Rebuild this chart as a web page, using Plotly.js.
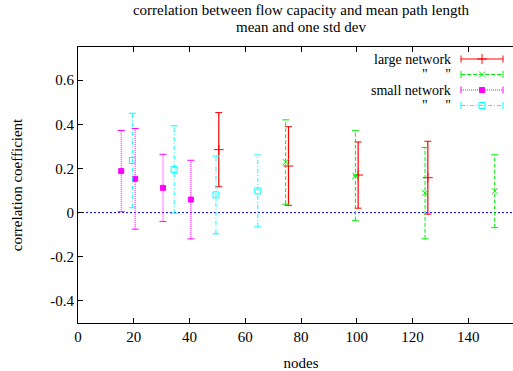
<!DOCTYPE html>
<html>
<head>
<meta charset="utf-8">
<script src="https://cdn.plot.ly/plotly-3.0.1.min.js"></script>
<style>
html,body{margin:0;padding:0;overflow:hidden;background:#fff;width:513px;height:371px;}
#plot{width:530px;height:371px;}
</style>
</head>
<body>
<div id="plot"></div>
<script>
// ---- data ----
const largeX  = [50.5, 75.5, 100.5, 125.5];
const largeMean = [0.285, 0.211, 0.170, 0.158];
const largeStd  = [0.168, 0.178, 0.150, 0.165];

const large2X  = [74.5, 99.5, 124.5, 149.5];
const large2Mean = [0.229, 0.167, 0.088, 0.097];
const large2Std  = [0.191, 0.204, 0.207, 0.165];

const smallX  = [15.5, 20.5, 30.5, 40.5];
const smallMean = [0.188, 0.153, 0.112, 0.059];
const smallStd  = [0.184, 0.228, 0.152, 0.178];

const small2X  = [19.5, 34.5, 49.5, 64.5];
const small2Mean = [0.236, 0.195, 0.080, 0.098];
const small2Std  = [0.214, 0.198, 0.176, 0.163];

const zeroX = [0, 160];
const zeroY = [0, 0];

const xTicks = [0, 20, 40, 60, 80, 100, 120, 140];
const yTicks = [-0.4, -0.2, 0, 0.2, 0.4, 0.6];
const yTickText = ['-0.4', '-0.2', '0', '0.2', '0.4', '0.6'];

const legendNames = ['large network', '"\u00a0\u00a0\u00a0\u00a0\u00a0"', 'small network', '"\u00a0\u00a0\u00a0\u00a0\u00a0"'];

// ---- layout constants ----
const W = 530, H = 371, ML = 78, MR = 6, MT = 47, MB = 48;
const PH = H - MT - MB;
const FONT = 'Liberation Serif, Times New Roman, serif';

const styles = [
  {color: '#ff0000', dash: 'solid', width: 1.2, symbol: 'cross-thin-open', size: 7, fill: null},
  {color: '#00ee00', dash: '4px,2px', width: 1, symbol: 'x-thin-open', size: 6, fill: null},
  {color: '#ff00ff', dash: '1px,1px', width: 1, symbol: 'square', size: 5, fill: '#ff00ff'},
  {color: '#00ffff', dash: '4px,2px,1px,2px', width: 1, symbol: 'square-open', size: 6, fill: null}
];
const series = [
  [largeX, largeMean, largeStd],
  [large2X, large2Mean, large2Std],
  [smallX, smallMean, smallStd],
  [small2X, small2Mean, small2Std]
];

const traces = [];
traces.push({x: zeroX, y: zeroY, mode: 'lines', line: {color: '#0000ff', width: 1, dash: '2px,2px'}, hoverinfo: 'skip', showlegend: false});

series.forEach((s, k) => {
  const [xs, ms, sd] = s;
  const st = styles[k];
  const bx = [], by = [], cx = [], cy = [];
  xs.forEach((x, i) => {
    bx.push(x, x, null);
    by.push(ms[i] - sd[i], ms[i] + sd[i], null);
    cx.push(x, x);
    cy.push(ms[i] - sd[i], ms[i] + sd[i]);
  });
  traces.push({x: bx, y: by, mode: 'lines', line: {color: st.color, width: st.width, dash: st.dash}, showlegend: false, hoverinfo: 'skip'});
  traces.push({x: cx, y: cy, mode: 'markers', marker: {symbol: 'line-ew-open', size: 5, color: st.color, line: {color: st.color, width: 1}}, showlegend: false, hoverinfo: 'skip'});
  traces.push({x: xs, y: ms, mode: 'markers', marker: {symbol: st.symbol, size: st.size, color: st.fill || st.color, line: {color: st.color, width: 1}}, showlegend: false});
});

// ---- hand-drawn key (gnuplot style) in pixel space ----
const rowY = [59.0, 74.5, 90.0, 105.5];
const sx0 = 461, sx1 = 503, sxm = 482, textRight = 452;
const annotations = [];
rowY.forEach((ry, k) => {
  const st = styles[k];
  traces.push({x: [sx0, sx1], y: [ry, ry], xaxis: 'x2', yaxis: 'y2', mode: 'lines', line: {color: st.color, width: st.width, dash: st.dash}, showlegend: false, hoverinfo: 'skip'});
  traces.push({x: [sx0, sx1], y: [ry, ry], xaxis: 'x2', yaxis: 'y2', mode: 'markers', marker: {symbol: 'line-ns-open', size: 5, color: st.color, line: {color: st.color, width: 1}}, showlegend: false, hoverinfo: 'skip'});
  traces.push({x: [sxm], y: [ry], xaxis: 'x2', yaxis: 'y2', mode: 'markers', marker: {symbol: st.symbol, size: st.size, color: st.fill || st.color, line: {color: st.color, width: 1}}, showlegend: false, hoverinfo: 'skip'});
  annotations.push({xref: 'x2', yref: 'y2', x: textRight, y: ry, xanchor: 'right', yanchor: 'middle', borderpad: 0, text: legendNames[k], showarrow: false, font: {family: FONT, size: 14, color: '#000'}});
});
annotations.push({xref: 'paper', yref: 'paper', x: 0.5, y: (H - MB - 26.5) / PH, xanchor: 'center', yanchor: 'middle', borderpad: 0, text: 'mean and one std dev', showarrow: false, font: {family: FONT, size: 15, color: '#000'}});

const layout = {
  width: W, height: H,
  margin: {l: ML, r: MR, t: MT, b: MB, pad: 0},
  paper_bgcolor: '#fff', plot_bgcolor: '#fff',
  font: {family: FONT, size: 15, color: '#000'},
  title: {text: 'correlation between flow capacity and mean path length', x: 0.5, xref: 'paper', xanchor: 'center', y: 1 - 9.5 / H, yref: 'container', yanchor: 'middle', font: {family: FONT, size: 15, color: '#000'}},
  xaxis: {
    range: [0, 160], tickvals: xTicks, ticktext: xTicks.map(String),
    ticks: 'inside', ticklen: 5, tickcolor: '#000', tickwidth: 1,
    showline: true, linecolor: '#000', linewidth: 1, mirror: 'ticks',
    showgrid: false, zeroline: false,
    title: {text: 'nodes', font: {family: FONT, size: 15}, standoff: 13},
    tickfont: {family: FONT, size: 15}
  },
  yaxis: {
    range: [-0.5, 0.75], tickvals: yTicks, ticktext: yTickText,
    ticks: 'inside', ticklen: 5, tickcolor: '#000', tickwidth: 1,
    showline: true, linecolor: '#000', linewidth: 1, mirror: 'ticks',
    showgrid: false, zeroline: false,
    title: {text: 'correlation coefficient', font: {family: FONT, size: 15}, standoff: 24},
    tickfont: {family: FONT, size: 15}
  },
  xaxis2: {overlaying: 'x', range: [ML, W - MR], visible: false, fixedrange: true},
  yaxis2: {overlaying: 'y', range: [H - MB, MT], visible: false, fixedrange: true},
  annotations: annotations,
  showlegend: false
};

Plotly.newPlot('plot', traces, layout, {staticPlot: true, displayModeBar: false});
</script>
</body>
</html>
